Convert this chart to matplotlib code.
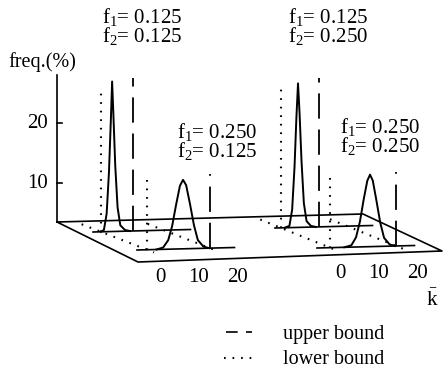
import numpy as np
import matplotlib.pyplot as plt

plt.rcParams['font.family'] = 'Liberation Serif'
plt.rcParams['mathtext.fontset'] = 'custom'
plt.rcParams['mathtext.rm'] = 'Liberation Serif'
plt.rcParams['mathtext.it'] = 'Liberation Serif:italic'

# distributions of k-bar (freq in %), one per (f1, f2) setting
k_a = [2.0, 2.8, 3.5, 4.1, 4.6, 4.9, 5.2, 5.7, 6.3, 7.0, 8.2, 9.5]
freq_a = [0, 0.3, 3, 10, 19, 25, 20, 11, 4, 1, 0.2, 0]
k_b = [2.5, 3.7, 4.4, 5.0, 5.5, 5.9, 6.3, 6.8, 7.4, 8.1, 9.2, 10.5]
freq_b = [0, 0.3, 3, 10, 18.5, 24, 19, 11, 4, 1, 0.2, 0]
k_c = [5.0, 6.7, 8.0, 9.0, 10.0, 11.0, 11.8, 12.6, 13.6, 14.6, 15.6, 17.0, 18.5]
freq_c = [0, 0.3, 1.5, 3.8, 7.3, 10.5, 11.5, 10.6, 7.4, 3.9, 1.4, 0.3, 0]
k_d = [7.0, 8.8, 10.0, 11.0, 12.0, 12.9, 13.6, 14.3, 15.2, 16.2, 17.2, 18.6, 20.0]
freq_d = [0, 0.3, 1.6, 4.2, 8.0, 11.0, 12.0, 11.0, 7.8, 4.0, 1.4, 0.3, 0]

lower = [2.05, 1.5, 2.6, 3.3]
upper = [10.3, 11.3, 18.7, 20.3]
lower_top = [24.0, 23.7, 12.2, 12.3]
upper_top = [25.5, 24.8, 12.4, 12.4]

f1_values = ['0.125', '0.125', '0.250', '0.250']
f2_values = ['0.125', '0.250', '0.125', '0.250']
k_ticks = [0, 10, 20]
freq_ticks = [10, 20]
k_max = 25

# layout of the pseudo 3-d drawing, in pixels
origins = [(93, 232), (275, 228), (137, 250), (317, 248)]
label_pos = [(102, 6), (288, 6), (177, 121), (340, 116)]
kpx, zpx, tilt = 3.9, 6.0, 0.1

def proj(i, k, f):
    ox, oy = origins[i]
    k = np.asarray(k, float)
    f = np.asarray(f, float)
    return ox + kpx * k, oy - tilt * k - zpx * f

fig = plt.figure(figsize=(4.43, 3.75), dpi=100)
ax = fig.add_axes([0, 0, 1, 1])
ax.set_xlim(0, 443)
ax.set_ylim(375, 0)
ax.axis('off')

lw = 1.2
# floor
floor_x = [57, 363, 442, 138, 57]
floor_y = [222, 214, 251, 262, 222]
ax.plot(floor_x, floor_y, color='black', lw=lw)

# vertical axis
ax.plot([57, 57], [75, 222], color='black', lw=lw)
for t in freq_ticks:
    y = 243 - zpx * t
    ax.plot([57, 62], [y, y], color='black', lw=lw)
    ax.text(48, y, str(t), ha='right', va='center', fontsize=15)
ax.text(8, 67, 'freq.(%)', ha='left', va='baseline', fontsize=14.5)

dot_style = dict(color='black', lw=1.5, linestyle=(0, (0.8, 3.3)))
dash_style = dict(color='black', lw=1.3, linestyle=(0, (14, 6)))

# dotted traces on the floor (back lower bound -> front lower bound)
for back, front in [(0, 2), (1, 3)]:
    bx, by = proj(back, lower[back], 0)
    fx, fy = proj(front, lower[front], 0)
    dx, dy = fx - bx, fy - by
    ax.plot([bx - 0.42 * dx, bx + 1.15 * dx], [by - 0.42 * dy, by + 1.15 * dy], **dot_style)
    ux, uy = proj(front, upper[front], 0)
    ax.plot([ux - 1.35 * dx, ux + 0.2 * dx], [uy - 1.35 * dy, uy + 0.2 * dy], **dot_style)

curves = [(k_a, freq_a), (k_b, freq_b), (k_c, freq_c), (k_d, freq_d)]
for i, (kk, ff) in enumerate(curves):
    bx, by = proj(i, [0, k_max], [0, 0])
    ax.plot(bx, by, color='black', lw=lw)
    cx, cy = proj(i, kk, ff)
    ax.plot(cx, cy, color='black', lw=1.4, zorder=4)
    lx, ly = proj(i, [lower[i], lower[i]], [0, lower_top[i]])
    ax.plot(lx, ly, **dot_style)
    ux, uy = proj(i, [upper[i], upper[i]], [0, upper_top[i]])
    ax.plot(ux, uy, **dash_style)
    tx, ty = label_pos[i]
    txt = r'f$_1$= ' + f1_values[i] + '\n' + r'f$_2$= ' + f2_values[i]
    ax.text(tx, ty, txt, ha='left', va='top', fontsize=15, linespacing=0.85)

# k ticks along the front edge
for x0, y0 in [(160, 278), (340, 273)]:
    for t in k_ticks:
        ax.text(x0 + kpx * t, y0, str(t), ha='center', va='center', fontsize=15)
ax.text(432, 300, r'$\bar{\mathrm{k}}$', ha='center', va='center', fontsize=15)

# legend
ax.plot([226, 252], [332, 332], color='black', lw=1.2, linestyle=(0, (7, 5)))
ax.text(283, 334, 'upper bound', ha='left', va='center', fontsize=14.5)
ax.plot([224, 252], [358, 358], **dot_style)
ax.text(283, 360, 'lower bound', ha='left', va='center', fontsize=14.5)

fig.savefig('out.png', dpi=100)
